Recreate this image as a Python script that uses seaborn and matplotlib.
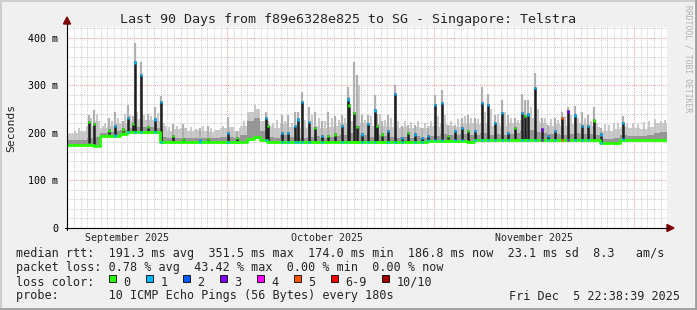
import numpy as np
import pandas as pd
import matplotlib
matplotlib.use("Agg")
import matplotlib.pyplot as plt
import seaborn as sns
from matplotlib.patches import Rectangle, Polygon
from matplotlib.lines import Line2D

# ---------------- data ----------------
# x unit: days since 2025-09-01 00:00 ; window = last 90 days ending Fri Dec 5 22:38:39 2025
start_day = 5.943
n_days = 90

# median rtt per day bin (ms)
median_ms = [175, 175, 175, 175, 173, 194, 194, 194, 198, 202,
             202, 202, 202, 202, 181, 180, 180, 180, 180, 180,
             180, 180, 180, 180, 180, 180, 180, 188, 192, 185,
             180, 180, 180, 180, 180, 180, 180, 180, 180, 180,
             180, 180, 180, 180, 180, 180, 180, 180, 180, 180,
             180, 180, 180, 180, 184, 184, 184, 184, 184, 184,
             180, 185, 185, 185, 185, 185, 185, 185, 185, 185,
             185, 185, 185, 185, 185, 185, 185, 185, 185, 185,
             179, 179, 179, 186, 186, 186, 186, 186, 186, 186]

# upper edge of the inner (darker) smoke per day bin (ms)
smoke_mid = [185, 185, 186, 190, 192, 200, 202, 205, 206, 210,
             212, 212, 212, 210, 192, 190, 190, 190, 190, 190,
             190, 189, 190, 192, 192, 190, 195, 225, 232, 205,
             192, 190, 195, 192, 193, 190, 192, 193, 190, 192,
             193, 196, 200, 215, 196, 192, 196, 193, 192, 190,
             192, 190, 193, 190, 194, 194, 198, 196, 195, 198,
             196, 196, 200, 195, 197, 196, 198, 200, 205, 206,
             202, 200, 197, 198, 196, 198, 200, 198, 197, 195,
             188, 188, 190, 195, 194, 194, 193, 195, 200, 202]

# upper edge of the outer (light) smoke per day bin (ms)
smoke_top = [198, 200, 205, 215, 225, 210, 215, 222, 218, 225,
             230, 228, 228, 225, 215, 205, 208, 210, 205, 207,
             205, 203, 207, 210, 212, 205, 215, 245, 250, 225,
             215, 210, 218, 212, 215, 210, 212, 215, 210, 212,
             215, 220, 225, 235, 220, 215, 220, 215, 212, 210,
             212, 210, 212, 210, 215, 212, 218, 215, 212, 218,
             220, 218, 222, 215, 218, 215, 220, 222, 228, 232,
             225, 222, 215, 218, 215, 218, 220, 218, 215, 212,
             205, 205, 208, 212, 210, 210, 208, 212, 222, 222]

# thin light-grey smoke peaks between the spikes (day, ms)
haze_day = [7.2, 7.8, 8.4, 8.9, 9.6, 10.5, 11.3, 11.7, 12.7, 13.6,
            14.7, 15.4, 16.5, 17.5, 18.6, 19.6, 20.5, 21.2, 22.5, 23.8,
            24.5, 25.3, 26.4, 27.6, 28.5, 29.3, 30.7, 31.9, 32.5, 33.3,
            34.2, 34.6, 35.3, 36.8, 37.5, 38.6, 39.7, 41.7, 42.7, 43.7,
            44.6, 45.7, 46.7, 47.6, 49.8, 50.6, 51.6, 52.9, 53.7, 54.6,
            55.6, 56.6, 57.6, 58.6, 59.6, 60.6, 61.6, 62.6, 63.6, 64.6,
            65.6, 66.6, 67.6, 68.6, 69.6, 70.6, 71.6, 72.6, 73.6, 75.6,
            76.6, 77.6, 78.6, 79.6, 80.6, 81.6, 82.6, 83.6, 84.6, 85.5,
            86.6, 87.3, 88.0, 88.6, 90.0, 90.8, 91.6, 92.5, 93.3, 94.2,
            95.0, 95.6]
haze_top = [205, 210, 200, 215, 232, 240, 215, 222, 225, 232,
            240, 238, 245, 238, 235, 242, 222, 212, 215, 210,
            212, 208, 214, 210, 206, 214, 212, 210, 226, 240,
            258, 250, 225, 222, 228, 225, 222, 228, 238, 232,
            225, 232, 228, 232, 300, 228, 235, 240, 228, 232,
            225, 226, 224, 226, 222, 226, 235, 238, 226, 230,
            235, 232, 230, 245, 250, 240, 245, 232, 228, 255,
            250, 232, 230, 228, 235, 238, 232, 232, 226, 222,
            218, 216, 220, 222, 218, 222, 218, 224, 226, 230,
            226, 228]

# latency spikes: position (days since Sep 1), median peak, smoke peak, loss class of the peak
spike_day = [9.29, 10.04, 12.29, 13.14, 14.30, 15.05, 15.80, 16.10, 17.04, 18.14,
             19.14, 20.04, 21.89, 23.30, 25.90, 27.10, 30.14, 31.40, 35.79, 36.14,
             38.14, 39.14, 40.14, 40.55, 41.15, 42.24, 43.14, 44.15, 45.14, 46.14,
             47.14, 48.04, 48.29, 49.04, 49.39, 50.14, 51.14, 52.14, 52.39, 53.24,
             54.14, 55.14, 56.14, 57.14, 58.14, 59.15, 60.14, 61.14, 62.14, 63.14,
             64.14, 65.15, 66.14, 67.14, 68.14, 69.14, 70.14, 71.15, 72.14, 73.14,
             74.15, 74.64, 75.14, 76.14, 77.14, 78.14, 79.14, 80.14, 81.14, 82.14,
             83.14, 84.14, 85.04, 86.04, 89.30]
spike_med = [225, 221, 208, 217, 210, 234, 221, 351, 324, 215,
             231, 268, 196, 190, 188, 190, 203, 192, 234, 217,
             203, 203, 217, 231, 268, 225, 213, 196, 196, 199,
             217, 273, 260, 245, 215, 199, 221, 250, 217, 199,
             206, 285, 192, 203, 199, 192, 196, 262, 266, 196,
             206, 213, 206, 206, 266, 262, 224, 245, 203, 213,
             245, 238, 241, 297, 210, 196, 206, 234, 248, 239,
             217, 217, 229, 199, 223]
spike_top = [238, 248, 231, 245, 225, 259, 235, 389, 350, 240,
             255, 278, 219, 219, 210, 215, 234, 205, 245, 225,
             238, 238, 245, 245, 287, 255, 245, 225, 245, 235,
             238, 297, 275, 350, 322, 238, 238, 280, 240, 225,
             238, 301, 215, 217, 217, 210, 210, 280, 290, 217,
             217, 231, 238, 231, 297, 283, 238, 269, 238, 231,
             283, 269, 269, 326, 231, 217, 231, 245, 255, 257,
             245, 238, 255, 210, 236]
spike_loss = [0, 0, 0, 1, 0, 1, 0, 1, 1, 0,
              1, 1, 0, 0, 1, 0, 1, 0, 1, 0,
              1, 1, 1, 1, 1, 1, 0, 1, 0, 0,
              1, 1, 0, 0, 0, 1, 1, 1, 0, 0,
              1, 1, 1, 0, 1, 1, 1, 1, 1, 0,
              1, 1, 0, 1, 1, 1, 1, 1, 1, 0,
              1, 0, 1, 1, 3, 1, 1, 5, 3, 1,
              1, 1, 0, 1, 1]

loss_labels = ["0", "1", "2", "3", "4", "5", "6-9", "10/10"]
loss_colors = ["#26ff00", "#00b8ff", "#0059ff", "#7e00ff", "#ff00fe", "#ff5500", "#ff0000", "#a10000"]

month_edges = [30, 61, 91]
month_mid = [15, 45, 76]
month_labels = ["September 2025", "October 2025", "November 2025"]
y_ticks = [0, 100, 200, 300, 400]
y_labels = ["0", "100 m", "200 m", "300 m", "400 m"]

title = "Last 90 Days from f89e6328e825 to SG - Singapore: Telstra"
row_rtt = "median rtt:  191.3 ms avg  351.5 ms max  174.0 ms min  186.8 ms now  23.1 ms sd  8.3   am/s"
row_loss = "packet loss: 0.78 % avg  43.42 % max  0.00 % min  0.00 % now"
row_probe = "probe:       10 ICMP Echo Pings (56 Bytes) every 180s"
stamp = "Fri Dec  5 22:38:39 2025"

# ---------------- figure ----------------
W, H = 697, 310
sns.set_style("white")
plt.rcParams["font.family"] = ["DejaVu Sans Mono"]
fig = plt.figure(figsize=(W / 100, H / 100), dpi=100, facecolor="#f0f0f0")

L, R, B, T = 67, 667, 228, 27
ax = fig.add_axes([L / W, 1 - B / H, (R - L) / W, (B - T) / H])
ax.set_facecolor("white")

edges = start_day + np.arange(n_days + 1)
med = np.array(median_ms + [median_ms[-1]], float)
mid = np.array(smoke_mid + [smoke_mid[-1]], float)
top = np.array(smoke_top + [smoke_top[-1]], float)

# grid
ax.set_xlim(start_day, start_day + n_days)
ax.set_ylim(0, 423)
ax.set_xticks(month_edges)
ax.set_xticks(np.arange(6, 96), minor=True)
ax.set_yticks(y_ticks)
ax.set_yticks(np.arange(0, 421, 20), minor=True)
ax.set_xticklabels([])
ax.set_yticklabels(y_labels, fontsize=7.2)
ax.grid(which="minor", color="#cfcfcf", linestyle=(0, (1, 1)), linewidth=0.75)
ax.grid(which="major", color="#f0a0a0", linestyle=(0, (1, 1)), linewidth=0.75)
ax.set_axisbelow(True)
ax.tick_params(axis="y", which="major", length=2.5, width=0.7, pad=4, colors="black")
ax.tick_params(axis="y", which="minor", length=0)
ax.tick_params(axis="x", which="both", length=2, width=0.7, color="#666666")
for s in ax.spines.values():
    s.set_visible(False)

# smoke
ax.fill_between(edges, med, top, step="post", color="#cacaca", linewidth=0, zorder=2)
haze_base = [median_ms[min(int(d - start_day), n_days - 1)] for d in haze_day]
ax.vlines(haze_day, haze_base, haze_top, color="#c4c4c4", linewidth=1.3, zorder=2.5)
ax.fill_between(edges, med, mid, step="post", color="#969696", linewidth=0, zorder=3)

# spikes
base_at = [median_ms[int(d - start_day)] for d in spike_day]
ax.vlines(spike_day, base_at, spike_top, color="#b0b0b0", linewidth=1.6, zorder=3)
ax.vlines(spike_day, base_at, spike_med, color="#1e1e1e", linewidth=1.8, zorder=4)

# median line
df = pd.DataFrame({"day": edges, "median": med})
sns.lineplot(data=df, x="day", y="median", ax=ax, color=loss_colors[0],
             linewidth=2.0, drawstyle="steps-post", zorder=5, legend=False)
tip_cols = [loss_colors[k] for k in spike_loss]
ax.vlines(spike_day, np.array(spike_med) - 5, spike_med, colors=tip_cols, linewidth=1.8, zorder=6)
ax.vlines(spike_day, np.array(base_at) - 1.5, np.array(base_at) + 3, colors=tip_cols, linewidth=1.8, zorder=6)
ax.set_xlabel("")
ax.set_ylabel("")

# month labels
for xm, lab in zip(month_mid, month_labels):
    ax.text(xm, -0.05, lab, transform=ax.get_xaxis_transform(), ha="center", va="center", fontsize=7.2)

# axis lines with arrows (figure pixel coords)
def fx(x):
    return x / W

def fy(y):
    return 1 - y / H

fig.add_artist(Line2D([fx(L), fx(L)], [fy(B + 2), fy(24)], color="black", linewidth=0.8))
fig.add_artist(Line2D([fx(L - 2), fx(668)], [fy(B), fy(B)], color="black", linewidth=0.8))
fig.add_artist(Polygon([[fx(L - 3.5), fy(24)], [fx(L + 3.5), fy(24)], [fx(L), fy(17)]],
                       closed=True, color="#7f0000"))
fig.add_artist(Polygon([[fx(667), fy(B - 3.5)], [fx(667), fy(B + 3.5)], [fx(674), fy(B)]],
                       closed=True, color="#7f0000"))

# texts
fig.text(fx(348), fy(19), title, ha="center", va="center", fontsize=9.6)
fig.text(fx(11), fy(128), "Seconds", rotation=90, ha="center", va="center", fontsize=8.2)
fig.text(fx(688), fy(5), "RRDTOOL / TOBI OETIKER", rotation=270, ha="center", va="top",
         fontsize=5.8, color="#b0b0b0")
fig.text(fx(16), fy(254), row_rtt, ha="left", va="center", fontsize=8.5)
fig.text(fx(16), fy(268), row_loss, ha="left", va="center", fontsize=8.5)
fig.text(fx(16), fy(282), "loss color:", ha="left", va="center", fontsize=8.5)
fig.text(fx(16), fy(296), row_probe, ha="left", va="center", fontsize=8.5)
fig.text(fx(680), fy(296), stamp, ha="right", va="center", fontsize=8.5)

box_x = [108.5, 145.5, 182.5, 219.5, 256.5, 293.5, 330.5, 381.5]
for bx, col, lab in zip(box_x, loss_colors, loss_labels):
    fig.add_artist(Rectangle((fx(bx), fy(282)), 7.5 / W, 7.5 / H, facecolor=col,
                             edgecolor="black", linewidth=0.6, transform=fig.transFigure))
    fig.text(fx(bx + 15), fy(282), lab, ha="left", va="center", fontsize=8.5)

# frame
fig.add_artist(Line2D([0, 1], [fy(0.5), fy(0.5)], color="#cfcfcf", linewidth=1.5))
fig.add_artist(Line2D([fx(0.5), fx(0.5)], [0, 1], color="#cfcfcf", linewidth=1.5))
fig.add_artist(Line2D([0, 1], [fy(309), fy(309)], color="#9e9e9e", linewidth=2.0))
fig.add_artist(Line2D([fx(696), fx(696)], [0, 1], color="#9e9e9e", linewidth=2.0))

fig.savefig("out.png", dpi=100, facecolor=fig.get_facecolor())
